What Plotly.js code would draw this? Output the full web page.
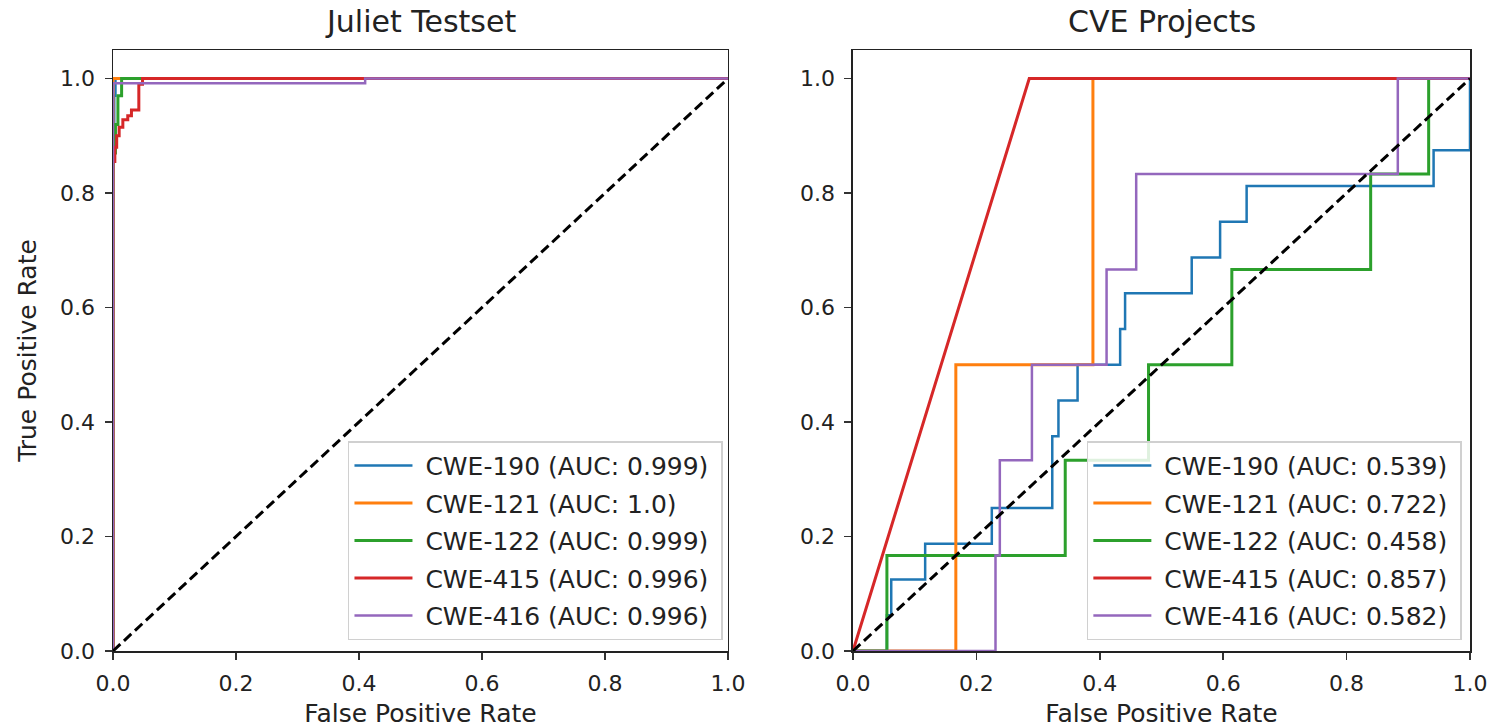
<!DOCTYPE html>
<html>
<head>
<meta charset="utf-8">
<script src="https://cdn.plot.ly/plotly-3.0.1.min.js"></script>
<style>html,body{margin:0;padding:0;background:#fff;}#chart{width:1496px;height:728px;}</style>
</head>
<body>
<div id="chart"></div>
<script>
// ---- Data ----
const seriesNames = ["CWE-190", "CWE-121", "CWE-122", "CWE-415", "CWE-416"];
const colors = ["#1f77b4", "#ff7f0e", "#2ca02c", "#d62728", "#9467bd"];

// Juliet Testset
const julietAUC = ["0.999", "1.0", "0.999", "0.996", "0.996"];
const juliet190X = [0, 0, 0.002, 0.002, 0.004, 0.004, 1];
const juliet190Y = [0, 0.86, 0.86, 0.97, 0.97, 1, 1];
const juliet121X = [0, 0, 1];
const juliet121Y = [0, 1, 1];
const juliet122X = [0, 0, 0.004, 0.004, 0.008, 0.008, 0.014, 0.014, 1];
const juliet122Y = [0, 0.87, 0.87, 0.92, 0.92, 0.97, 0.97, 1, 1];
const juliet415X = [0, 0, 0.003, 0.003, 0.006, 0.006, 0.01, 0.01, 0.016, 0.016, 0.024, 0.024, 0.03, 0.03, 0.042, 0.042, 0.048, 0.048, 1];
const juliet415Y = [0, 0.855, 0.855, 0.88, 0.88, 0.9, 0.9, 0.915, 0.915, 0.928, 0.928, 0.935, 0.935, 0.945, 0.945, 0.99, 0.99, 1, 1];
const juliet416X = [0, 0, 0.41, 0.41, 1];
const juliet416Y = [0, 0.992, 0.992, 1, 1];

// CVE Projects
const cveAUC = ["0.539", "0.722", "0.458", "0.857", "0.582"];
const cve190X = [0, 0.055, 0.055, 0.062, 0.062, 0.117, 0.117, 0.225, 0.225, 0.323, 0.323, 0.333, 0.333, 0.364, 0.364, 0.433, 0.433, 0.441, 0.441, 0.549, 0.549, 0.595, 0.595, 0.638, 0.638, 0.941, 0.941, 1, 1];
const cve190Y = [0, 0, 0.0625, 0.0625, 0.125, 0.125, 0.1875, 0.1875, 0.25, 0.25, 0.375, 0.375, 0.4375, 0.4375, 0.5, 0.5, 0.5625, 0.5625, 0.625, 0.625, 0.6875, 0.6875, 0.75, 0.75, 0.8125, 0.8125, 0.875, 0.875, 1];
const cve121X = [0, 0.1667, 0.1667, 0.3889, 0.3889, 1];
const cve121Y = [0, 0, 0.5, 0.5, 1, 1];
const cve122X = [0, 0.055, 0.055, 0.344, 0.344, 0.479, 0.479, 0.614, 0.614, 0.839, 0.839, 0.933, 0.933, 1];
const cve122Y = [0, 0, 0.1667, 0.1667, 0.3333, 0.3333, 0.5, 0.5, 0.6667, 0.6667, 0.8333, 0.8333, 1, 1];
const cve415X = [0, 0.2857, 1];
const cve415Y = [0, 1, 1];
const cve416X = [0, 0.231, 0.231, 0.238, 0.238, 0.29, 0.29, 0.411, 0.411, 0.459, 0.459, 0.883, 0.883, 1];
const cve416Y = [0, 0, 0.1667, 0.1667, 0.3333, 0.3333, 0.5, 0.5, 0.6667, 0.6667, 0.8333, 0.8333, 1, 1];

const diagX = [0, 1];
const diagY = [0, 1];
const tickVals = [0, 0.2, 0.4, 0.6, 0.8, 1.0];
const tickText = ["0.0", "0.2", "0.4", "0.6", "0.8", "1.0"];
const titles = ["Juliet Testset", "CVE Projects"];

// ---- Build traces ----
const julietX = [juliet190X, juliet121X, juliet122X, juliet415X, juliet416X];
const julietY = [juliet190Y, juliet121Y, juliet122Y, juliet415Y, juliet416Y];
const cveX = [cve190X, cve121X, cve122X, cve415X, cve416X];
const cveY = [cve190Y, cve121Y, cve122Y, cve415Y, cve416Y];
const widths = [2.5, 3, 3, 3, 2.5];
const PAD = '\u00A0';

const traces = [];
for (let i = 0; i < 5; i++) {
  traces.push({
    x: julietX[i], y: julietY[i], type: 'scatter', mode: 'lines',
    name: PAD + seriesNames[i] + ' (AUC: ' + julietAUC[i] + ')' + PAD,
    line: {color: colors[i], width: widths[i]}, legendgroup: 'j' + i,
    xaxis: 'x', yaxis: 'y', legend: 'legend', hoverinfo: 'skip'
  });
}
traces.push({x: diagX, y: diagY, type: 'scatter', mode: 'lines', showlegend: false,
  line: {color: '#000', width: 3, dash: '10px,5px'}, xaxis: 'x', yaxis: 'y', hoverinfo: 'skip'});
for (let i = 0; i < 5; i++) {
  traces.push({
    x: cveX[i], y: cveY[i], type: 'scatter', mode: 'lines',
    name: PAD + seriesNames[i] + ' (AUC: ' + cveAUC[i] + ')' + PAD,
    line: {color: colors[i], width: widths[i]}, legendgroup: 'c' + i,
    xaxis: 'x2', yaxis: 'y2', legend: 'legend2', hoverinfo: 'skip'
  });
}
traces.push({x: diagX, y: diagY, type: 'scatter', mode: 'lines', showlegend: false,
  line: {color: '#000', width: 3, dash: '10px,5px'}, xaxis: 'x2', yaxis: 'y2', hoverinfo: 'skip'});

const FONT = 'DejaVu Sans, sans-serif';
function axisBase() {
  return {
    showline: true, mirror: true, linecolor: '#222', linewidth: 1.5,
    ticks: 'outside', ticklen: 7, tickwidth: 1.5, tickcolor: '#333',
    showgrid: false, zeroline: false,
    tickvals: tickVals, ticktext: tickText,
    tickfont: {family: FONT, size: 22, color: '#222'},
    ticklabelstandoff: 5
  };
}
const xTitle = {text: 'False Positive Rate', font: {family: FONT, size: 25, color: '#222'}, standoff: 13};
const xa1 = Object.assign(axisBase(), {domain: [0, 0.4532], range: [0, 1], title: xTitle});
const xa2 = Object.assign(axisBase(), {domain: [0.5453, 1], range: [0, 1], title: xTitle, anchor: 'y2'});
const ya1 = Object.assign(axisBase(), {domain: [0, 1], range: [0, 1.05],
  title: {text: 'True Positive Rate', font: {family: FONT, size: 25, color: '#222'}, standoff: 16}});
const ya2 = Object.assign(axisBase(), {domain: [0, 1], range: [0, 1.05], anchor: 'x2'});

const legendBase = {
  font: {family: FONT, size: 25, color: '#222'},
  bgcolor: 'rgba(255,255,255,0.85)', bordercolor: '#d0d0d0', borderwidth: 1.5,
  xanchor: 'right', yanchor: 'bottom', itemwidth: 58, tracegroupgap: 2
};

const layout = {
  width: 1496, height: 728,
  margin: {l: 113, r: 26, t: 50, b: 77},
  paper_bgcolor: '#fff', plot_bgcolor: '#fff',
  font: {family: FONT, color: '#222'},
  xaxis: xa1, yaxis: ya1, xaxis2: xa2, yaxis2: ya2,
  legend: Object.assign({}, legendBase, {x: 0.4495, y: 0.018}),
  legend2: Object.assign({}, legendBase, {x: 0.994, y: 0.018}),
  annotations: [
    {text: titles[0], xref: 'paper', yref: 'paper', x: 0.2266, y: 1.047, xanchor: 'center', yanchor: 'middle', showarrow: false, font: {family: FONT, size: 30, color: '#222'}},
    {text: titles[1], xref: 'paper', yref: 'paper', x: 0.7727, y: 1.047, xanchor: 'center', yanchor: 'middle', showarrow: false, font: {family: FONT, size: 30, color: '#222'}}
  ],
  showlegend: true
};

Plotly.newPlot('chart', traces, layout, {displayModeBar: false, staticPlot: true});
</script>
</body>
</html>
